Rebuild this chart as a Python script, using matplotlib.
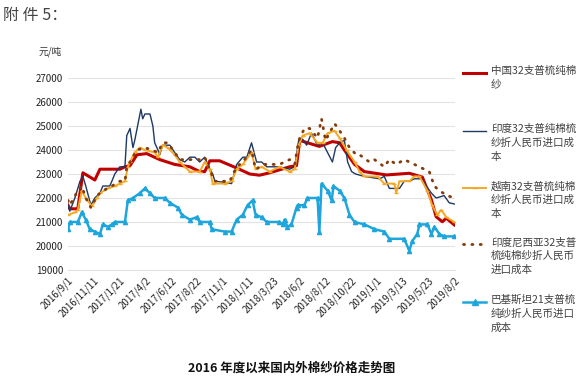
import matplotlib
matplotlib.use("Agg")
import matplotlib.pyplot as plt
from matplotlib.lines import Line2D
import pandas as pd

plt.rcParams["font.family"] = ["Noto Sans CJK SC", "DejaVu Sans"]

# 中国32支普梳纯棉纱
china_dates = ["2016-09-01", "2016-09-06", "2016-09-28", "2016-10-12", "2016-11-14", "2016-11-28",
               "2017-01-22", "2017-02-05", "2017-02-19", "2017-03-10", "2017-04-06", "2017-05-12",
               "2017-06-22", "2017-08-03", "2017-08-30", "2017-09-13", "2017-09-27", "2017-10-24",
               "2017-12-10", "2018-01-15", "2018-02-11", "2018-03-11", "2018-05-05", "2018-05-24",
               "2018-06-02", "2018-07-26", "2018-08-31", "2018-09-20", "2018-10-03", "2018-10-31",
               "2018-11-27", "2019-01-27", "2019-03-31", "2019-05-06", "2019-05-31", "2019-06-13",
               "2019-06-30", "2019-07-11", "2019-08-02"]
china_vals = [21700, 21550, 21550, 23050, 22750, 23200,
              23200, 23300, 23350, 23800, 23850, 23600,
              23400, 23300, 23100, 23100, 23550, 23550,
              23250, 23000, 22950, 23050, 23300, 23350,
              24400, 24150, 24350, 24300, 24000, 23400,
              23100, 22960, 23030, 22870, 21920, 21220,
              21010, 21160, 20880]

# 印度32支
india_dates = ["2016-09-01", "2016-09-06", "2016-09-20", "2016-10-04", "2016-10-12", "2016-10-20",
               "2016-11-03", "2016-11-14", "2016-11-28", "2016-12-06", "2016-12-25", "2016-12-31",
               "2017-01-08", "2017-01-22", "2017-02-05", "2017-02-10", "2017-02-19", "2017-02-27",
               "2017-03-04", "2017-03-21", "2017-03-26", "2017-04-01", "2017-04-15", "2017-04-23",
               "2017-04-28", "2017-05-07", "2017-05-12", "2017-05-20", "2017-06-09", "2017-06-22",
               "2017-07-06", "2017-07-20", "2017-08-03", "2017-08-17", "2017-08-30", "2017-09-13",
               "2017-09-27", "2017-10-05", "2017-10-11", "2017-11-07", "2017-11-26", "2017-12-10",
               "2017-12-27", "2018-01-07", "2018-01-20", "2018-02-03", "2018-02-17", "2018-03-03",
               "2018-04-07", "2018-05-05", "2018-05-19", "2018-05-30", "2018-06-10", "2018-06-21",
               "2018-07-04", "2018-07-21", "2018-08-04", "2018-08-31", "2018-09-09", "2018-09-20",
               "2018-10-03", "2018-10-12", "2018-10-23", "2018-11-03", "2018-11-27", "2019-01-08",
               "2019-01-21", "2019-02-04", "2019-03-04", "2019-03-17", "2019-03-31", "2019-04-14",
               "2019-05-03", "2019-05-17", "2019-05-31", "2019-06-13", "2019-07-05", "2019-07-19",
               "2019-08-02"]
india_vals = [21700, 21450, 22000, 22700, 22900, 22500,
              21700, 22000, 22200, 22500, 22500, 22700,
              23000, 23300, 23300, 24600, 24900, 24100,
              24400, 25700, 25300, 25500, 25500, 25000,
              24300, 24000, 23800, 24200, 24200, 23900,
              23600, 23500, 23700, 23700, 23500, 23700,
              23200, 23000, 22700, 22650, 22600, 23400,
              23700, 23700, 24300, 23500, 23500, 23300,
              23300, 23200, 23300, 24400, 24450, 24200,
              24700, 24200, 24300, 23500, 24100, 24300,
              24400, 23500, 23100, 23000, 22900, 22800,
              22900, 22400, 22400, 22700, 22700, 22800,
              22800, 22500, 22200, 22000, 22100, 21800,
              21750]

# 越南32支
vietnam_dates = ["2016-09-01", "2016-09-20", "2016-09-28", "2016-10-09", "2016-10-20", "2016-11-06",
                 "2016-11-20", "2016-11-28", "2016-12-20", "2017-01-08", "2017-01-22", "2017-02-05",
                 "2017-02-13", "2017-02-19", "2017-03-04", "2017-03-18", "2017-04-01", "2017-04-28",
                 "2017-05-07", "2017-05-20", "2017-06-03", "2017-06-22", "2017-07-06", "2017-07-20",
                 "2017-08-03", "2017-08-30", "2017-09-13", "2017-09-27", "2017-10-05", "2017-11-07",
                 "2017-11-26", "2017-12-10", "2017-12-27", "2018-01-20", "2018-01-31", "2018-02-17",
                 "2018-03-11", "2018-04-07", "2018-05-05", "2018-05-19", "2018-05-30", "2018-06-10",
                 "2018-06-29", "2018-07-21", "2018-08-04", "2018-08-18", "2018-09-06", "2018-09-20",
                 "2018-10-09", "2018-10-31", "2018-11-14", "2018-11-27", "2019-01-02", "2019-01-21",
                 "2019-02-18", "2019-02-23", "2019-03-04", "2019-03-31", "2019-04-14", "2019-04-28",
                 "2019-05-20", "2019-06-02", "2019-06-16", "2019-06-27", "2019-07-11", "2019-08-02"]
vietnam_vals = [21300, 21400, 21500, 22300, 22000, 21650,
                22000, 22200, 22400, 22500, 22600, 22700,
                23300, 23500, 23900, 24100, 24000, 23900,
                23700, 24200, 24100, 23800, 23500, 23300,
                23100, 23100, 23500, 23200, 22600, 22600,
                22700, 23200, 23400, 23900, 23200, 23300,
                23100, 23300, 23100, 23200, 24200, 24600,
                24700, 24300, 24300, 24700, 24800, 24500,
                24000, 23500, 23100, 22900, 22900, 22600,
                22600, 22200, 22700, 22700, 22900, 22900,
                22300, 21700, 21300, 21500, 21200, 21000]

# 印度尼西亚32支
indo_dates = ["2016-09-01", "2016-09-06", "2016-09-28", "2016-10-09", "2016-10-20", "2016-11-03",
              "2016-11-20", "2016-12-06", "2016-12-31", "2017-01-22", "2017-02-05", "2017-02-10",
              "2017-02-19", "2017-03-10", "2017-04-01", "2017-04-20", "2017-05-07", "2017-05-20",
              "2017-06-03", "2017-06-22", "2017-07-06", "2017-08-30", "2017-09-13", "2017-10-02",
              "2017-10-11", "2017-11-21", "2017-12-10", "2017-12-27", "2018-01-20", "2018-01-31",
              "2018-02-25", "2018-04-07", "2018-05-05", "2018-05-19", "2018-05-30", "2018-06-15",
              "2018-06-29", "2018-07-21", "2018-08-01", "2018-08-12", "2018-09-06", "2018-09-20",
              "2018-10-03", "2018-10-17", "2018-11-05", "2018-11-14", "2018-12-11", "2018-12-25",
              "2019-01-21", "2019-02-04", "2019-02-23", "2019-03-17", "2019-04-14", "2019-05-11",
              "2019-05-25", "2019-06-08", "2019-06-22", "2019-07-14", "2019-08-02"]
indo_vals = [21900, 21700, 22300, 22500, 22000, 21600,
             22100, 22300, 22500, 22700, 22700, 23300,
             23500, 24000, 24100, 24000, 23900, 24300,
             24300, 23900, 23600, 23600, 23700, 23000,
             22700, 22700, 23300, 23500, 24000, 23200,
             23400, 23400, 23600, 23400, 24400, 24900,
             24900, 24500, 25300, 24400, 25100, 24800,
             24500, 24100, 23800, 23800, 23500, 23600,
             23300, 23600, 23400, 23600, 23400, 23200,
             23100, 22500, 22300, 22100, 22000]

# 巴基斯坦21支
pak_dates = ["2016-09-01", "2016-09-06", "2016-09-28", "2016-10-09", "2016-10-20", "2016-10-31",
             "2016-11-14", "2016-11-28", "2016-12-06", "2016-12-20", "2016-12-31", "2017-01-08",
             "2017-02-05", "2017-02-13", "2017-02-27", "2017-03-18", "2017-04-01", "2017-04-15",
             "2017-04-28", "2017-05-26", "2017-06-09", "2017-07-01", "2017-07-12", "2017-08-03",
             "2017-08-22", "2017-08-30", "2017-09-27", "2017-10-02", "2017-11-07", "2017-11-26",
             "2017-12-10", "2017-12-27", "2018-01-09", "2018-01-23", "2018-01-31", "2018-02-17",
             "2018-03-03", "2018-04-07", "2018-04-16", "2018-04-21", "2018-04-29", "2018-05-10",
             "2018-05-24", "2018-05-27", "2018-06-15", "2018-06-23", "2018-07-21", "2018-07-26",
             "2018-08-01", "2018-08-18", "2018-08-29", "2018-09-03", "2018-09-20", "2018-10-03",
             "2018-10-17", "2018-10-31", "2018-11-27", "2018-12-25", "2019-01-21", "2019-02-04",
             "2019-03-17", "2019-03-31", "2019-04-08", "2019-04-22", "2019-04-28", "2019-05-20",
             "2019-05-31", "2019-06-08", "2019-06-22", "2019-07-05", "2019-08-02"]
pak_vals = [20700, 21000, 21000, 21400, 21100, 20700,
            20600, 20500, 20900, 20800, 20900, 21000,
            21000, 21900, 22000, 22200, 22400, 22200,
            22000, 22000, 21800, 21600, 21300, 21100,
            21200, 21000, 21000, 20700, 20600, 20600,
            21100, 21300, 21700, 21900, 21300, 21200,
            21000, 21000, 20900, 21100, 20800, 20900,
            21600, 21700, 21700, 22000, 22000, 20600,
            22600, 22300, 21900, 22500, 22300, 22000,
            21300, 21000, 20900, 20700, 20600, 20300,
            20300, 19800, 20200, 20500, 20900, 20900,
            20500, 20800, 20500, 20400, 20400]

tick_dates = ["2016-09-01", "2016-11-11", "2017-01-21", "2017-04-02", "2017-06-12", "2017-08-22",
              "2017-11-01", "2018-01-11", "2018-03-23", "2018-06-02", "2018-08-12", "2018-10-22",
              "2019-01-01", "2019-03-13", "2019-05-23", "2019-08-02"]
tick_labels = ["2016/9/1", "2016/11/11", "2017/1/21", "2017/4/2", "2017/6/12", "2017/8/22",
               "2017/11/1", "2018/1/11", "2018/3/23", "2018/6/2", "2018/8/12", "2018/10/22",
               "2019/1/1", "2019/3/13", "2019/5/23", "2019/8/2"]

labels = ["中国32支普梳纯棉\n纱",
          "印度32支普纯棉梳\n纱折人民币进口成\n本",
          "越南32支普梳纯棉\n纱折人民币进口成\n本",
          "印度尼西亚32支普\n梳纯棉纱折人民币\n进口成本",
          "巴基斯坦21支普梳\n纯纱折人民币进口\n成本"]

fig = plt.figure(figsize=(5.88, 3.82), dpi=100)
ax = fig.add_axes([68 / 588, 1 - 270 / 382, 387 / 588, 192 / 382])

styles = [
    dict(color="#c00000", lw=2.2),
    dict(color="#1f3864", lw=1.0),
    dict(color="#f7a823", lw=1.4, marker="_", ms=3),
    dict(color="#843c0c", lw=2.0, ls=(0, (0.4, 2.6)), dash_capstyle="round"),
    dict(color="#1ea6dc", lw=1.8, marker="^", ms=3),
]
series = [(china_dates, china_vals), (india_dates, india_vals), (vietnam_dates, vietnam_vals),
          (indo_dates, indo_vals), (pak_dates, pak_vals)]

for (d, v), st in zip(series, styles):
    ax.plot(pd.to_datetime(d), v, **st)

ax.set_ylim(19000, 27000)
ax.set_yticks(range(19000, 27001, 1000))
ax.set_xlim(pd.Timestamp("2016-09-01"), pd.Timestamp("2019-08-04"))
ax.set_xticks(pd.to_datetime(tick_dates))
ax.set_xticklabels(tick_labels, rotation=45, ha="right", rotation_mode="anchor")
ax.tick_params(axis="both", length=0, labelsize=7, colors="#222222")
ax.tick_params(axis="x", pad=4)
ax.grid(axis="y", color="#e3e3e3", lw=0.8)
ax.set_axisbelow(True)
for s in ["top", "right", "left"]:
    ax.spines[s].set_visible(False)
ax.spines["bottom"].set_color("#e3e3e3")

fig.text(62 / 588, 1 - 52 / 382, "元/吨", fontsize=7, ha="right", va="center", color="#333333")
fig.text(3 / 588, 1 - 15 / 382, "附 件 5：", fontsize=11.5, ha="left", va="center", color="#444444")
fig.text(292 / 588, 1 - 368 / 382, "2016 年度以来国内外棉纱价格走势图", fontsize=9,
         fontweight="bold", ha="center", va="center", color="#111111")

# manual legend (handle beside first text line)
leg_y = [73, 131, 188, 244, 302]
for y, lab, st in zip(leg_y, labels, styles):
    yy = 1 - y / 382
    kw = dict(st)
    ms = kw.pop("ms", None)
    mk = kw.pop("marker", None)
    fig.add_artist(Line2D([463 / 588, 486 / 588], [yy, yy], transform=fig.transFigure, **kw))
    if mk:
        fig.add_artist(Line2D([474.5 / 588], [yy], transform=fig.transFigure, marker=mk,
                              ms=ms + 1, color=st["color"], lw=0))
    fig.text(491 / 588, yy + 7 / 382, lab, fontsize=7.6, ha="left", va="top",
             color="#404040", linespacing=1.45)

fig.savefig("out.png", dpi=100)
